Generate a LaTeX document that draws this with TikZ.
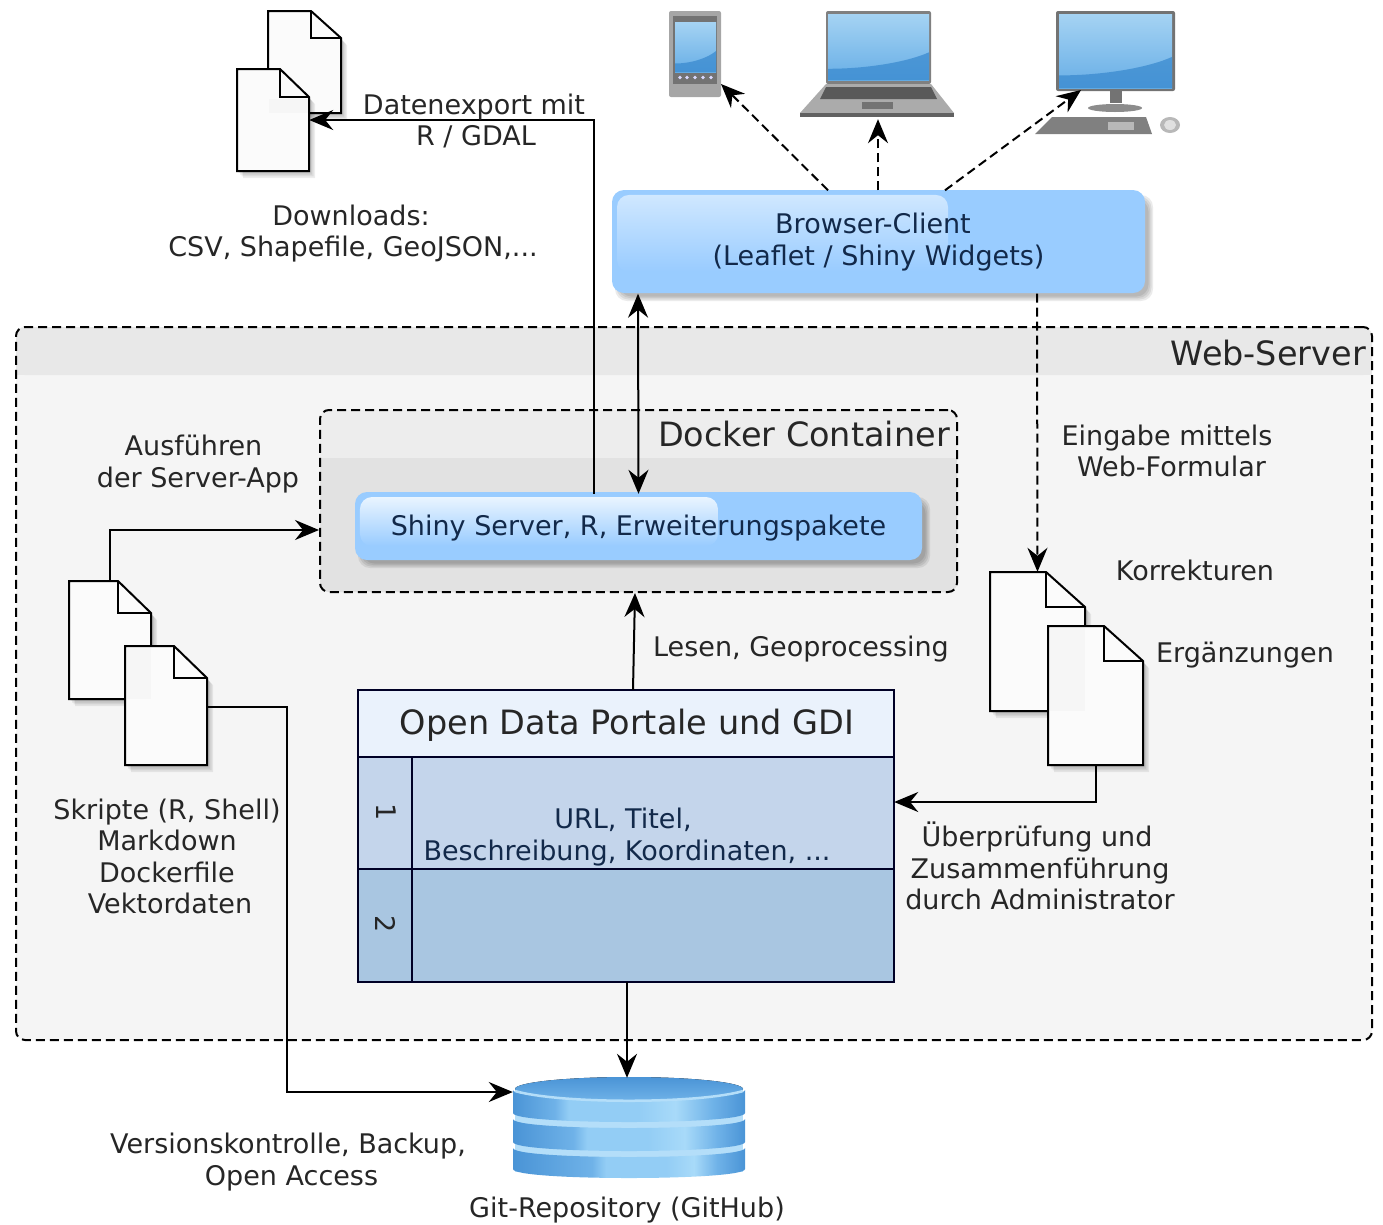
\documentclass[tikz,border=0pt]{standalone}
\usepackage{fontspec}
\setmainfont{DejaVu Sans}
\usetikzlibrary{arrows.meta,calc,fadings}
\definecolor{txt}{HTML}{262626}
\definecolor{txtblue}{HTML}{12294A}
\definecolor{glossbase}{HTML}{99CCFF}
\definecolor{glossone}{HTML}{D0E8FF}
\definecolor{glosstwo}{HTML}{EAF5FF}
\definecolor{tabhead}{HTML}{EAF2FC}
\definecolor{tabone}{HTML}{C4D5EB}
\definecolor{tabtwo}{HTML}{A9C6E1}
\definecolor{dbdark}{HTML}{4A94D6}
\definecolor{dbmid}{HTML}{6FB2E8}
\definecolor{dblight}{HTML}{93CDF5}
\definecolor{dbpale}{HTML}{A8DAF9}
\definecolor{dbrim}{HTML}{B4DEF9}
\definecolor{scrtop}{HTML}{A5D3F3}
\definecolor{scrmid}{HTML}{67AEE6}
\definecolor{scrbot}{HTML}{3A8ACF}
\pgfdeclarehorizontalshading{dbA}{100bp}{color(0bp)=(dbdark); color(25bp)=(dbdark); color(34bp)=(dbmid); color(37bp)=(dblight); color(52bp)=(dblight); color(60bp)=(dbpale); color(68bp)=(dbmid); color(75bp)=(dbdark); color(100bp)=(dbdark)}
\pgfdeclarehorizontalshading{dbB}{100bp}{color(0bp)=(dbdark); color(25bp)=(dbdark); color(38bp)=(dbmid); color(41bp)=(dblight); color(54bp)=(dblight); color(62bp)=(dbpale); color(69bp)=(dbmid); color(75bp)=(dbdark); color(100bp)=(dbdark)}
\pgfdeclarehorizontalshading{dbC}{100bp}{color(0bp)=(dbdark); color(25bp)=(dbdark); color(42bp)=(dbmid); color(45bp)=(dblight); color(58bp)=(dblight); color(64bp)=(dbpale); color(69bp)=(dbmid); color(75bp)=(dbdark); color(100bp)=(dbdark)}
\tikzset{
  x=1pt,y=-1pt,
  >={Stealth[length=24pt,width=20pt,inset=8pt]},
  conn/.style={line width=2pt,black},
  connd/.style={line width=2pt,black,dash pattern=on 9pt off 5pt},
  lbl/.style={text=txt,align=center,inner sep=0pt,font=\fontsize{27}{31.5}\selectfont},
  lblbig/.style={text=txt,inner sep=0pt,font=\fontsize{33.5}{38}\selectfont},
  lblblue/.style={text=txtblue,align=center,inner sep=0pt,font=\fontsize{27}{31.5}\selectfont},
  framebox/.style={line width=2pt,dash pattern=on 9pt off 5pt,rounded corners=9pt,draw=black},
  gridline/.style={line width=2pt,draw=black!85!blue},
}
% soft drop shadow, lower right
\newcommand{\softshadow}[5]{%
  \foreach \s in {5,3.5,2,.5}{%
    \fill[black,opacity=.08,rounded corners=#5]
      ({#1+8-\s},{#2+10-\s}) rectangle ({#3+3+\s},{#4+3+\s});}}
% glossy box: x0 y0 x1 y1 highlight-x highlight-y lightcolour
\newcommand{\glossbox}[7]{%
  \softshadow{#1}{#2}{#3}{#4}{12pt}
  \fill[glossbase,rounded corners=12pt] (#1,#2) rectangle (#3,#4);
  \fill[#7,path fading=south,rounded corners=12pt]
    ({#1+5},{#2+5}) rectangle (#5,#6);}
% page: name x0 y0 x1 y1 foldx foldy
\newcommand{\docpage}[7]{%
  \foreach \s in {1.5,3,4.5,6}{%
    \fill[black,opacity=.07,shift={(\s,{\s*1.2})}] (#2,#3) -- (#6,#3) -- (#4,#7) -- (#4,#5) -- (#2,#5) -- cycle;}
  \fill[black!1.5] (#2,#3) -- (#6,#3) -- (#4,#7) -- (#4,#5) -- (#2,#5) -- cycle;
  \draw[line width=2pt,line join=miter,black] (#2,#3) -- (#6,#3) -- (#4,#7) -- (#4,#5) -- (#2,#5) -- cycle;
  \draw[line width=2pt,black] (#6,#3) -- (#6,#7) -- (#4,#7);
  \node[inner sep=0pt,minimum width={#4-#2},minimum height={#5-#3}] (#1) at ({(#2+#4)/2},{(#3+#5)/2}) {};}
% disc band: top side, bottom side, shading
\newcommand{\dbband}[3]{%
  \shade[shading=#3]
    (513,#1) .. controls (513,{#1+12}) and (745,{#1+12}) .. (745,#1) -- (745,#2)
    .. controls (745,{#2+12}) and (513,{#2+12}) .. (513,#2) -- cycle;}
% glossy screen
\newcommand{\screenface}[4]{%
  \fill[top color=scrtop,bottom color=scrmid] (#1,#2) rectangle (#3,#4);
  \fill[scrbot,opacity=.75] (#1,{#4-(#4-#2)*.17})
    .. controls ({#1+(#3-#1)*.4},{#4-(#4-#2)*.17}) and ({#1+(#3-#1)*.8},{#4-(#4-#2)*.28}) .. (#3,{#4-(#4-#2)*.42})
    -- (#3,#4) -- (#1,#4) -- cycle;}
\begin{document}
\begin{tikzpicture}
\useasboundingbox (0,0) rectangle (1383,1224);

% --- Web-Server frame
\fill[black!4,rounded corners=9pt] (16,327) rectangle (1372,1040);
\fill[black!9,rounded corners=9pt] (16,327) rectangle (1372,375);
\fill[black!9] (16,360) rectangle (1372,375);
\node[framebox,fill=none,minimum width=1356pt,minimum height=713pt,inner sep=0pt] (webserver) at (694,683.5) {};
\node[lblbig,anchor=east] (webserverlabel) at (1366,353) {Web-Server};

% --- Docker frame
\fill[black!7,rounded corners=9pt] (320,410) rectangle (957,592);
\fill[black!11.5,rounded corners=9pt] (320,458) rectangle (957,592);
\fill[black!11.5] (320,458) rectangle (957,480);
\node[framebox,minimum width=637pt,minimum height=182pt,inner sep=0pt] (docker) at (638.5,501) {};
\node[lblbig,anchor=east] (dockerlabel) at (950,434) {Docker Container};

% --- glossy boxes
\glossbox{612}{190}{1145}{293}{948}{272}{glossone}
\node[lblblue,minimum width=533pt,minimum height=103pt] (browser) at (878.5,242) {\hspace*{-11pt}Browser-Client\\(Leaflet / Shiny Widgets)};
\glossbox{355}{492}{922}{560}{718}{546}{glosstwo}
\node[lblblue,minimum width=567pt,minimum height=68pt] (shiny) at (638.5,528) {Shiny Server, R, Erweiterungspakete};

% --- table
\fill[tabhead] (358,690) rectangle (894,757);
\fill[tabone] (358,757) rectangle (894,869);
\fill[tabtwo] (358,869) rectangle (894,982);
\draw[gridline] (358,690) rectangle (894,982);
\draw[gridline] (358,757) -- (894,757);
\draw[gridline] (358,869) -- (894,869);
\draw[gridline] (412,757) -- (412,982);
\node[minimum width=536pt,minimum height=292pt,inner sep=0pt] (portal) at (626,836) {};
\node[lblbig,text=txt] (portaltitle) at (627,725) {Open Data Portale und GDI};
\node[lbl,rotate=-90] (rowone) at (386,812) {1};
\node[lbl,rotate=-90] (rowtwo) at (386,924) {2};
\node[lbl,text=txtblue] (rowtext) at (627,837) {\hspace*{-8pt}URL, Titel,\\Beschreibung, Koordinaten, ...};

% --- pages
\docpage{expback}{268}{11}{341}{113}{311}{38}
\docpage{expfront}{237}{69}{309}{171}{280}{97}
\fill[black,opacity=.02] (269,99) rectangle (308,113);
\docpage{scrback}{69}{581}{151}{699}{118}{613}
\docpage{scrfront}{125}{646}{207}{765}{174}{678}
\fill[black,opacity=.02] (127,648) rectangle (151,699);
\docpage{corback}{990}{572}{1085}{711}{1046}{607}
\docpage{corfront}{1048}{626}{1143}{765}{1104}{661}
\fill[black,opacity=.02] (1050,628) rectangle (1085,711);

% --- database
\fill[dbrim] (515,1096) rectangle (743,1172);
\dbband{1148}{1169}{dbC}
\dbband{1119}{1142}{dbB}
\dbband{1090}{1113}{dbA}
\fill[top color=dbdark,bottom color=dbmid] (629,1089) ellipse [x radius=114,y radius=12];
\draw[line width=2.5pt,dbrim] (515,1091) .. controls (560,1104) and (698,1104) .. (743,1091);
\node[minimum width=232pt,minimum height=101pt,inner sep=0pt] (repo) at (629,1127.5) {};

% --- tablet
\fill[rounded corners=2pt,black!35] (669,11) rectangle (721,97);
\fill[black!55] (673,16) rectangle (717,84);
\screenface{675}{22}{716}{72}
\foreach \i in {680,687,695,703,711}{\fill[white!85!blue] (\i,77.5) circle [radius=1.8];}
\node[minimum width=52pt,minimum height=86pt,inner sep=0pt] (tablet) at (695,54) {};

% --- laptop
\fill[rounded corners=2pt,black!50] (826,11) rectangle (931,84);
\screenface{828}{14}{929}{80}
\fill[black!33] (826,84) -- (931,84) -- (954,113) -- (800,113) -- cycle;
\fill[black!65] (826,87) -- (931,87) -- (937,99) -- (820,99) -- cycle;
\fill[black!62] (800,113) rectangle (954,117);
\fill[black!55] (862,102) rectangle (893,109);
\node[minimum width=154pt,minimum height=106pt,inner sep=0pt] (laptop) at (877,64) {};

% --- desktop
\fill[rounded corners=2pt,black!55] (1056,11) rectangle (1175,91);
\screenface{1059}{14}{1172}{88}
\fill[black!55] (1110,91) rectangle (1122,103);
\fill[black!45] (1115,108) ellipse [x radius=27,y radius=4];
\fill[black!50] (1052,117) -- (1146,117) -- (1152,134) -- (1035,134) -- cycle;
\fill[black!28] (1108,122) rectangle (1134,130);
\fill[black!28] (1170,125) ellipse [x radius=10,y radius=8];
\fill[black!12] (1170,125) ellipse [x radius=6,y radius=5];
\node[minimum width=145pt,minimum height=124pt,inner sep=0pt] (desktop) at (1107.5,73) {};

% --- connectors
\draw[connd,->] ([xshift=-50.5pt]browser.north) -- ([xshift=26pt,yshift=-30pt]tablet.center);
\draw[connd,->] ([xshift=-.5pt]browser.north) -- ([xshift=1pt,yshift=-2pt]laptop.south);
\draw[connd,->] ([xshift=66.5pt]browser.north) -- ([xshift=-26.5pt,yshift=-17pt]desktop.center);
\draw[connd,->] ([xshift=158.5pt]browser.south) -- (corback.north);
\draw[conn,<->] ([xshift=-240.5pt]browser.south) -- (shiny.north);
\draw[conn,->] ([xshift=-44.5pt]shiny.north) |- (expfront.east);
\draw[conn,->] (scrback.north) |- ([yshift=-29pt]docker.west);
\coordinate (scrroute) at (287,900);
\draw[conn,->] ([yshift=-1.5pt]scrfront.east) -| (scrroute) |- ([yshift=35.5pt]repo.west);
\draw[conn,->] ([xshift=7pt]portal.north) -- ([xshift=-3.5pt]docker.south);
\draw[conn,->] ([xshift=1pt]portal.south) -- ([xshift=-2pt,yshift=-1pt]repo.north);
\draw[conn,->] (corfront.south) |- ([yshift=34pt]portal.east);

% --- labels
\node[lbl] (exporttext) at (476,121) {\hspace*{-4pt}Datenexport mit\\R / GDAL};
\node[lbl] (downloads) at (353,233.5) {\hspace*{-4pt}Downloads:\\CSV, Shapefile, GeoJSON,...};
\node[lbl] (runapp) at (198,464) {\hspace*{-9pt}Ausführen\\der Server-App};
\node[lbl] (webform) at (1167,451) {Eingabe mittels\\\hspace*{9pt}Web-Formular};
\node[lbl] (corrections) at (1195,570) {Korrekturen};
\node[lbl] (additions) at (1245,655) {Ergänzungen};
\node[lbl] (reading) at (801,649) {Lesen, Geoprocessing};
\node[lbl] (review) at (1040,866) {\hspace*{-6pt}Überprüfung und\\Zusammenführung\\durch Administrator};
\node[lbl] (scripts) at (167,856.5) {Skripte (R, Shell)\\Markdown\\Dockerfile\\\hspace*{6pt}Vektordaten};
\node[lbl] (versioning) at (288,1162) {Versionskontrolle, Backup,\\\hspace*{7pt}Open Access};
\node[lbl] (repolabel) at (627,1210) {Git-Repository (GitHub)};
\end{tikzpicture}
\end{document}
